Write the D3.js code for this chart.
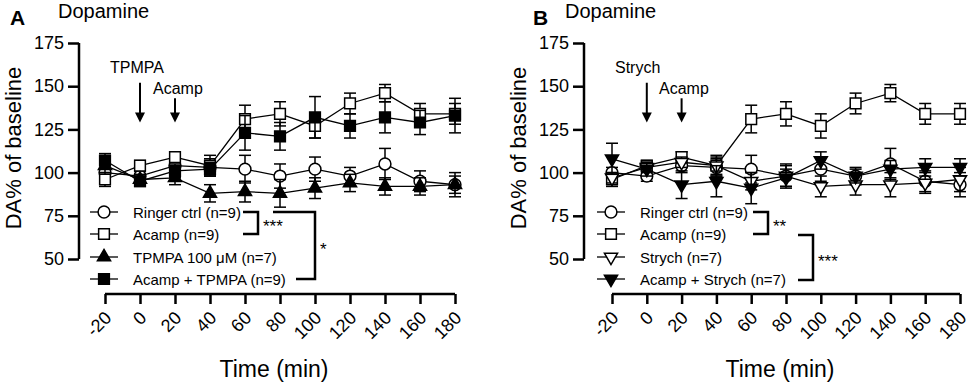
<!DOCTYPE html>
<html>
<head>
<meta charset="utf-8">
<script src="https://cdn.jsdelivr.net/npm/d3@7"></script>
<style>
  body { margin: 0; background: #fff; }
  svg { display: block; font-family: "Liberation Sans", Arial, sans-serif; }
</style>
</head>
<body>
<div id="chart"></div>
<script>
// time points (min)
const times = [-20, 0, 20, 40, 60, 80, 100, 120, 140, 160, 180];
const yTicks = [50, 75, 100, 125, 150, 175];

// DA% of baseline, mean and SEM
const ringerMean = [100, 98, 104, 103, 102, 98, 102, 98, 105, 95, 93];
const ringerErr = [3, 3, 4, 5, 8, 7, 7, 5, 9, 6, 7];
const acampMean = [96, 104, 109, 104, 131, 134, 127, 140, 146, 134, 134];
const acampErr = [4, 3, 3, 6, 8, 7, 7, 6, 5, 6, 6];
const tpmpaMean = [104, 96, 97, 88, 89, 88, 91, 94, 92, 92, 93];
const tpmpaErr = [4, 3, 4, 5, 6, 8, 6, 5, 5, 5, 5];
const acampTpmpaMean = [107, 95, 101, 102, 123, 121, 132, 127, 132, 129, 133];
const acampTpmpaErr = [4, 3, 4, 4, 10, 8, 12, 7, 9, 7, 10];
const strychMean = [97, 103, 106, 104, 95, 98, 92, 93, 93, 94, 96];
const strychErr = [3, 3, 3, 5, 5, 6, 6, 6, 7, 6, 7];
const acampStrychMean = [108, 102, 93, 95, 91, 97, 107, 98, 102, 103, 103];
const acampStrychErr = [9, 4, 8, 9, 9, 5, 5, 4, 5, 5, 5];

const W = 969, H = 385;
const svg = d3.select('#chart').append('svg')
    .attr('width', W)
    .attr('height', H);

const symbolDefs = {
    circle: { type: d3.symbolCircle, size: 110, fill: '#fff', rot: 0 },
    square: { type: d3.symbolSquare, size: 115, fill: '#fff', rot: 0 },
    squareFilled: { type: d3.symbolSquare, size: 115, fill: '#000', rot: 0 },
    triangle: { type: d3.symbolTriangle, size: 75, fill: '#000', rot: 0 },
    triangleDown: { type: d3.symbolTriangle, size: 75, fill: '#fff', rot: 180 },
    triangleDownFilled: { type: d3.symbolTriangle, size: 75, fill: '#000', rot: 180 }
};

function drawMarker (g, sym, x, y) {
    const s = symbolDefs[sym];
    g.append('path')
        .attr('d', d3.symbol().type(s.type).size(s.size)())
        .attr('transform', `translate(${x},${y}) rotate(${s.rot})`)
        .attr('fill', s.fill)
        .attr('stroke', '#000')
        .attr('stroke-width', 1.5);
}

function drawPanel (p) {
    const g = svg.append('g');
    const x = d3.scaleLinear().domain([-20, 180]).range([p.x0, p.x1]);
    const y = d3.scaleLinear().domain([50, 175]).range([259, 43]);

    // panel letter + title
    g.append('text').attr('x', p.letterX).attr('y', 25)
        .attr('font-size', 21).attr('font-weight', 'bold').text(p.letter);
    g.append('text').attr('x', p.titleX).attr('y', 18)
        .attr('font-size', 20).text('Dopamine');

    // y axis
    const yAxis = g.append('g')
        .attr('transform', `translate(${p.yAxisX},0)`)
        .call(d3.axisLeft(y).tickValues(yTicks).tickSize(11).tickPadding(4));
    yAxis.selectAll('path,line').attr('stroke', '#000').attr('stroke-width', 2.5);
    yAxis.select('.domain').attr('d', `M0,${y(175)}V${y(50)}`);
    yAxis.selectAll('text').attr('font-size', 18).attr('fill', '#000')
        .attr('font-family', '"Liberation Sans", Arial, sans-serif');

    // x axis
    const xAxis = g.append('g')
        .attr('transform', 'translate(0,294)')
        .call(d3.axisBottom(x).tickValues(times).tickSize(10).tickFormat(d => String(d)));
    xAxis.selectAll('path,line').attr('stroke', '#000').attr('stroke-width', 2.5);
    xAxis.select('.domain').attr('d', `M${x(-20)},0H${x(180)}`);
    xAxis.selectAll('text')
        .attr('font-size', 18).attr('fill', '#000')
        .attr('font-family', '"Liberation Sans", Arial, sans-serif')
        .attr('text-anchor', 'end')
        .attr('dy', 0)
        .attr('y', 0)
        .attr('transform', 'translate(7,25) rotate(-45)');

    // axis titles
    g.append('text')
        .attr('transform', `translate(${p.yTitleX},148) rotate(-90)`)
        .attr('text-anchor', 'middle').attr('font-size', 22)
        .text('DA% of baseline');
    g.append('text')
        .attr('x', (p.x0 + p.x1) / 2 - 6).attr('y', 377)
        .attr('text-anchor', 'middle').attr('font-size', 23)
        .text('Time (min)');

    // treatment arrows
    p.arrows.forEach(a => {
        const ax = x(a.t);
        g.append('line')
            .attr('x1', ax).attr('x2', ax)
            .attr('y1', y(a.top)).attr('y2', y(129) - 8)
            .attr('stroke', '#000').attr('stroke-width', 2);
        g.append('path')
            .attr('d', `M${ax - 5},${y(129) - 10}L${ax + 5},${y(129) - 10}L${ax},${y(129)}Z`)
            .attr('fill', '#000');
        g.append('text')
            .attr('x', a.labelX).attr('y', a.labelY)
            .attr('font-size', 16).text(a.label);
    });

    // series
    p.series.forEach(s => {
        const sg = g.append('g');
        times.forEach((t, i) => {
            const cx = x(t), m = s.mean[i], e = s.err[i];
            sg.append('line')
                .attr('x1', cx).attr('x2', cx)
                .attr('y1', y(m - e)).attr('y2', y(m + e))
                .attr('stroke', '#000').attr('stroke-width', 1.5);
            [m - e, m + e].forEach(v => {
                sg.append('line')
                    .attr('x1', cx - 6).attr('x2', cx + 6)
                    .attr('y1', y(v)).attr('y2', y(v))
                    .attr('stroke', '#000').attr('stroke-width', 1.5);
            });
        });
        sg.append('path')
            .datum(times.map((t, i) => [t, s.mean[i]]))
            .attr('d', d3.line().x(d => x(d[0])).y(d => y(d[1])))
            .attr('fill', 'none').attr('stroke', '#000').attr('stroke-width', 1.3);
        times.forEach((t, i) => drawMarker(sg, s.sym, x(t), y(s.mean[i])));
    });

    // legend
    const rowY = [212, 234, 257, 279];
    p.series.forEach((s, i) => {
        const ly = rowY[i];
        g.append('line')
            .attr('x1', p.legX).attr('x2', p.legX + 28)
            .attr('y1', ly).attr('y2', ly)
            .attr('stroke', '#000').attr('stroke-width', 1.3);
        drawMarker(g, s.sym, p.legX + 14, ly);
        g.append('text')
            .attr('x', p.legX + 43).attr('y', ly + 5.5)
            .attr('font-size', 15).text(s.name);
    });

    // significance brackets
    p.brackets.forEach(b => {
        g.append('path')
            .attr('d', `M${b.x0},${b.y0}H${b.xr}V${b.y1}H${b.x1}`)
            .attr('fill', 'none').attr('stroke', '#000').attr('stroke-width', 2.5);
        g.append('text')
            .attr('x', b.xr + 5).attr('y', (b.y0 + b.y1) / 2 + 9)
            .attr('font-size', 17).text(b.label);
    });
}

drawPanel({
    letter: 'A', letterX: 10, titleX: 58,
    x0: 105, x1: 455, yAxisX: 79, yTitleX: 21,
    arrows: [
        { t: 0, top: 152, label: 'TPMPA', labelX: 110, labelY: 73 },
        { t: 20, top: 143, label: 'Acamp', labelX: 153, labelY: 94 }
    ],
    series: [
        { name: 'Ringer ctrl (n=9)', mean: ringerMean, err: ringerErr, sym: 'circle' },
        { name: 'Acamp (n=9)', mean: acampMean, err: acampErr, sym: 'square' },
        { name: 'TPMPA 100 \u03bcM (n=7)', mean: tpmpaMean, err: tpmpaErr, sym: 'triangle' },
        { name: 'Acamp + TPMPA  (n=9)', mean: acampTpmpaMean, err: acampTpmpaErr, sym: 'squareFilled' }
    ],
    legX: 90,
    brackets: [
        { x0: 243, xr: 258, y0: 212, y1: 234, x1: 243, label: '***' },
        { x0: 273, xr: 315, y0: 212, y1: 279, x1: 296, label: '*' }
    ]
});

drawPanel({
    letter: 'B', letterX: 533, titleX: 565,
    x0: 612, x1: 960, yAxisX: 584, yTitleX: 526,
    arrows: [
        { t: 0, top: 152, label: 'Strych', labelX: 615, labelY: 73 },
        { t: 20, top: 143, label: 'Acamp', labelX: 659, labelY: 94 }
    ],
    series: [
        { name: 'Ringer ctrl (n=9)', mean: ringerMean, err: ringerErr, sym: 'circle' },
        { name: 'Acamp (n=9)', mean: acampMean, err: acampErr, sym: 'square' },
        { name: 'Strych (n=7)', mean: strychMean, err: strychErr, sym: 'triangleDown' },
        { name: 'Acamp + Strych (n=7)', mean: acampStrychMean, err: acampStrychErr, sym: 'triangleDownFilled' }
    ],
    legX: 597,
    brackets: [
        { x0: 753, xr: 768, y0: 212, y1: 234, x1: 753, label: '**' },
        { x0: 798, xr: 813, y0: 235, y1: 280, x1: 798, label: '***' }
    ]
});
</script>
</body>
</html>
